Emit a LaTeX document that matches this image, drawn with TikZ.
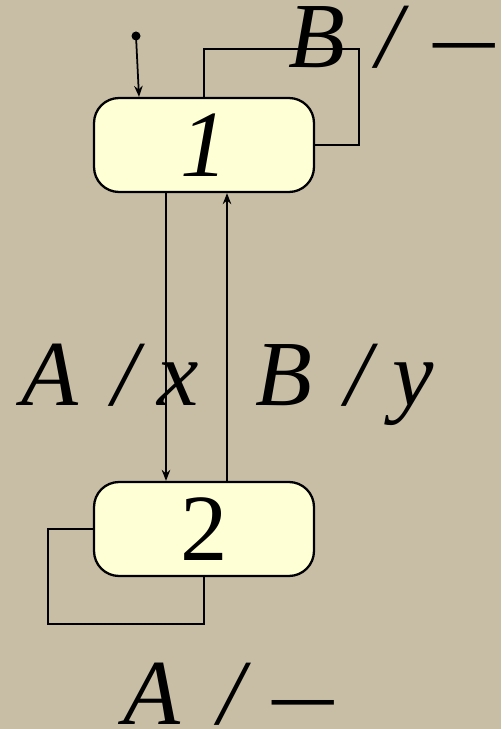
\documentclass[tikz,border=0pt]{standalone}
\usepackage{fontspec}
\setmainfont{Liberation Serif}
\usetikzlibrary{shapes,arrows.meta,calc}
\definecolor{paper}{RGB}{199,190,165}
\definecolor{statefill}{RGB}{255,255,214}
\tikzstyle{state} = [rectangle, rounded corners=0.5cm, minimum width=4.4cm, minimum height=1.88cm, draw=black, line width=1.3pt, fill=statefill, text centered, font=\fontsize{54}{58}\selectfont, inner sep=0pt]
\tikzstyle{trans} = [line width=1pt]
\tikzstyle{arrow} = [line width=1pt,-{Stealth[length=2.2mm,width=1.7mm]}]
\tikzstyle{event} = [anchor=base west, inner sep=0pt, font=\fontsize{53}{56}\selectfont\itshape]
\newcommand{\nooutput}{\upshape\scalebox{0.66}[1]{---}}

\begin{document}
\begin{tikzpicture}[x=0.02cm, y=-0.02cm]
\fill[paper] (0,0) rectangle (501,729);
\useasboundingbox (0,0) rectangle (501,729);
\clip (0,0) rectangle (501,729);

\node (s1) [state] at (204,145) {\itshape 1};
\node (s2) [state] at (204,529) {2};
\coordinate (init) at (136,36);
\fill (init) circle (4.5);

\draw [arrow] (init) -- ($(s1.north)+(-65,0)$);
\draw [arrow] ($(s1.south)+(-38,0)$) -- ($(s2.north)+(-38,0)$);
\draw [arrow] ($(s2.north)+(23,0)$) -- ($(s1.south)+(23,0)$);
\draw [trans] (s1.north) |- (359,49) |- (s1.east);
\draw [trans] (s2.west) -| (48,624) -| (s2.south);

% transition labels
\node (e1) [event] at (288,68) {B\hspace{0.34em}/\hspace{0.33em}\nooutput};
\node (e2) [event] at (21,405) {A\hspace{0.37em}/\hspace{0.2em}x};
\node (e3) [event] at (255,405) {B\hspace{0.36em}/\hspace{0.22em}y};
\node (e4) [event] at (123,724) {A\hspace{0.41em}/\hspace{0.3em}\nooutput};
\end{tikzpicture}
\end{document}
